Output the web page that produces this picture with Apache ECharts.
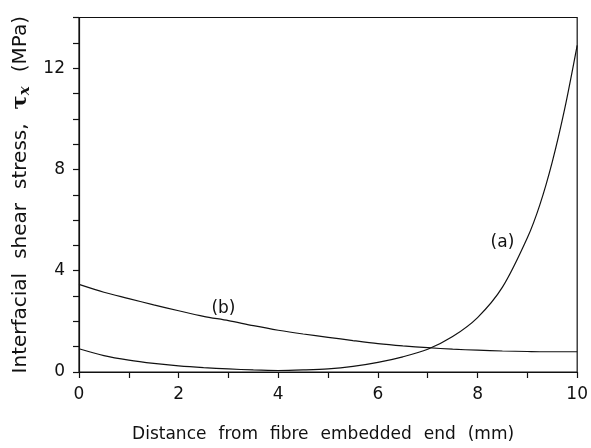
<!DOCTYPE html>
<html>
<head>
<meta charset="utf-8">
<script src="https://cdn.jsdelivr.net/npm/echarts@6/dist/echarts.min.js"></script>
<style>
html,body{margin:0;padding:0;background:#fff;}
#chart{width:591px;height:448px;}
</style>
</head>
<body>
<div id="chart"></div>
<script>
// Distance from fibre embedded end (mm)
const distance = [0, 0.5, 1, 1.5, 2, 2.5, 3, 3.5, 4, 4.5, 5, 5.5, 6, 6.5, 7, 7.5, 8, 8.5, 9, 9.25, 9.5, 9.75, 10];
// Curve (a): interfacial shear stress (MPa)
const stressA = [0.92, 0.65, 0.47, 0.34, 0.24, 0.17, 0.12, 0.08, 0.06, 0.08, 0.12, 0.22, 0.38, 0.6, 0.9, 1.4, 2.15, 3.35, 5.3, 6.6, 8.3, 10.4, 12.9];
// Curve (b): interfacial shear stress (MPa)
const stressB = [3.46, 3.15, 2.9, 2.65, 2.42, 2.2, 2.03, 1.83, 1.65, 1.5, 1.37, 1.24, 1.12, 1.03, 0.96, 0.9, 0.86, 0.83, 0.81, 0.8, 0.8, 0.8, 0.8];
// Curve labels and their anchor points (data units)
const labelA = '(a)';
const labelAAt = [8.5, 5.1];
const labelB = '(b)';
const labelBAt = [2.9, 2.5];
const xTitleWords = ['Distance', 'from', 'fibre', 'embedded', 'end', '(mm)'];
const yTitleWords = ['Interfacial', 'shear', 'stress,'];

const font = 'DejaVu Sans';
const ink = '#111';

function pairs(xs, ys) { return xs.map((x, i) => [x, ys[i]]); }
function spaced(words) { return words.map(w => '{n|' + w + '}').join('{sp| }'); }

const chart = echarts.init(document.getElementById('chart'), null, {renderer: 'canvas'});
chart.setOption({
  animation: false,
  backgroundColor: '#fff',
  grid: {left: 79, right: 8, top: 17.5, bottom: 75, show: true, borderColor: ink, borderWidth: 1.2, backgroundColor: 'transparent'},
  xAxis: {
    type: 'value', min: 0, max: 10, interval: 1,
    name: spaced(xTitleWords), nameLocation: 'middle', nameGap: 54,
    nameTextStyle: {fontFamily: font, fontSize: 17, color: ink, padding: [0, 10, 0, 0],
      rich: {n: {fontFamily: font, fontSize: 17, color: ink}, sp: {fontFamily: font, fontSize: 17, width: 12}}},
    axisLine: {show: true, lineStyle: {color: ink, width: 1.2}},
    axisTick: {show: true, inside: false, length: 6, lineStyle: {color: ink, width: 1.2}},
    splitLine: {show: false},
    axisLabel: {fontFamily: font, fontSize: 17, color: ink, margin: 14,
      formatter: v => (v % 2 === 0 ? String(v) : '')}
  },
  yAxis: {
    type: 'value', min: 0, max: 14, interval: 1,
    name: spaced(yTitleWords) + '{sp| }{t|τ}{s|x}{sp| }{n|(MPa)}', nameLocation: 'middle', nameGap: 43, nameRotate: 90,
    nameTextStyle: {fontFamily: font, fontSize: 20, color: ink,
      rich: {
        n: {fontFamily: font, fontSize: 20, color: ink},
        sp: {fontFamily: font, fontSize: 20, width: 14},
        t: {fontFamily: 'DejaVu Serif', fontSize: 21, fontWeight: 'bold', color: ink},
        s: {fontFamily: 'DejaVu Serif', fontSize: 15, fontWeight: 'bold', fontStyle: 'italic', color: ink, padding: [9, 0, 0, 0]}
      }},
    axisLine: {show: true, lineStyle: {color: ink, width: 1.2}},
    axisTick: {show: true, inside: false, length: 6, lineStyle: {color: ink, width: 1.2}},
    splitLine: {show: false},
    axisLabel: {fontFamily: font, fontSize: 17, color: ink, margin: 14,
      formatter: v => (v % 4 === 0 ? String(v) : '')}
  },
  series: [
    {
      type: 'line', name: labelA, data: pairs(distance, stressA), smooth: 0.3,
      showSymbol: false, lineStyle: {color: ink, width: 1.2}, z: 3,
      markPoint: {symbol: 'circle', symbolSize: 0, data: [{coord: labelAAt, value: labelA,
        label: {show: true, formatter: labelA, position: 'inside', fontFamily: font, fontSize: 17, color: ink}}]}
    },
    {
      type: 'line', name: labelB, data: pairs(distance, stressB), smooth: 0.3,
      showSymbol: false, lineStyle: {color: ink, width: 1.2}, z: 3,
      markPoint: {symbol: 'circle', symbolSize: 0, data: [{coord: labelBAt, value: labelB,
        label: {show: true, formatter: labelB, position: 'inside', fontFamily: font, fontSize: 17, color: ink}}]}
    }
  ]
});
</script>
</body>
</html>
